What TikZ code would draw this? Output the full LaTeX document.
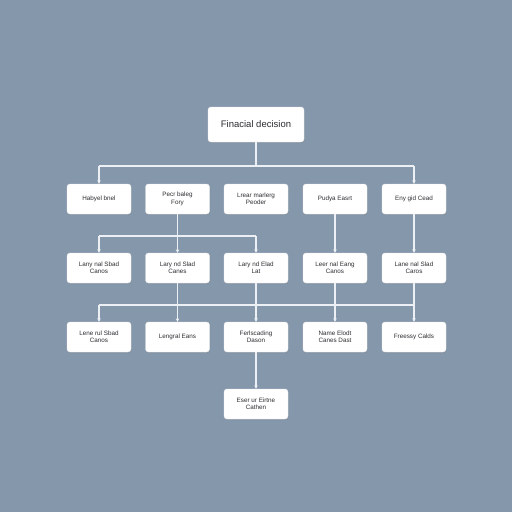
\documentclass[tikz,border=0pt]{standalone}
\usepackage{fontspec}
\setmainfont{Liberation Sans}
\usetikzlibrary{shadows,arrows.meta}
\definecolor{bgc}{RGB}{132,151,171}
\definecolor{linec}{RGB}{236,240,244}
\definecolor{txtc}{RGB}{45,45,50}
\tikzset{
  box/.style={draw=white!85!gray, line width=0.4pt, fill=white, rounded corners=3pt,
    minimum width=64pt, minimum height=30pt, inner sep=1pt, align=center,
    font=\fontsize{6.3}{7.4}\selectfont, text=txtc,
    drop shadow={opacity=0.25, shadow xshift=0.6pt, shadow yshift=-1.2pt}},
  topbox/.style={box, minimum width=96pt, minimum height=35pt, font=\fontsize{9.5}{11}\selectfont},
  conn/.style={draw=linec, line width=1.2pt},
  arr/.style={conn, -{Stealth[length=3.5pt,width=3.5pt]}}
}
\begin{document}
\begin{tikzpicture}[x=1pt,y=-1pt]
\fill[bgc] (0,0) rectangle (512,512);
\useasboundingbox (0,0) rectangle (512,512);
% nodes
\node[topbox] (top) at (256,124.5) {Finacial decision};
\node[box] (r1a) at (99,199) {Habyel bnel};
\node[box] (r1b) at (177.5,199) {Pecr baleg\\Fory};
\node[box] (r1c) at (256,199) {Lrear marlerg\\Peoder};
\node[box] (r1d) at (335,199) {Pudya Easrt};
\node[box] (r1e) at (414,199) {Eny gid Cead};
\node[box] (r2a) at (99,268) {Lany nal Sbad\\Canos};
\node[box] (r2b) at (177.5,268) {Lary nd Slad\\Canes};
\node[box] (r2c) at (256,268) {Lary nd Elad\\Lat};
\node[box] (r2d) at (335,268) {Leer nal Eang\\Canos};
\node[box] (r2e) at (414,268) {Lane nal Slad\\Caros};
\node[box] (r3a) at (99,337) {Lene rul Sbad\\Canos};
\node[box] (r3b) at (177.5,337) {Lengral Eans};
\node[box] (r3c) at (256,337) {Ferlscading\\Dason};
\node[box] (r3d) at (335,337) {Name Elodt\\Canes Dast};
\node[box] (r3e) at (414,337) {Freessy Calds};
\node[box] (r4) at (256,404) {Eser ur Eirtne\\Cathen};
% junction levels
\coordinate (j1) at (0,166);
\coordinate (j2) at (0,236);
\coordinate (j3) at (0,305);
% top level
\draw[conn] (top.south) -- (top.south |- j1);
\draw[conn] (r1a.north |- j1) -- (r1e.north |- j1);
\draw[arr] (r1a.north |- j1) -- (r1a.north);
\draw[arr] (r1e.north |- j1) -- (r1e.north);
% row1 -> row2
\draw[arr] (r1b.south) -- (r2b.north);
\draw[conn] (r2a.north |- j2) -- (r2c.north |- j2);
\draw[arr] (r2a.north |- j2) -- (r2a.north);
\draw[arr] (r2c.north |- j2) -- (r2c.north);
\draw[arr] (r1d.south) -- (r2d.north);
\draw[arr] (r1e.south) -- (r2e.north);
% row2 -> row3
\draw[conn] (r3a.north |- j3) -- (r3e.north |- j3);
\draw[arr] (r3a.north |- j3) -- (r3a.north);
\draw[arr] (r2b.south) -- (r3b.north);
\draw[arr] (r2c.south) -- (r3c.north);
\draw[arr] (r2d.south) -- (r3d.north);
\draw[conn] (r2e.south) -- (r2e.south |- j3);
\draw[arr] (r3e.north |- j3) -- (r3e.north);
% row3 -> row4
\draw[arr] (r3c.south) -- (r4.north);
\end{tikzpicture}
\end{document}
